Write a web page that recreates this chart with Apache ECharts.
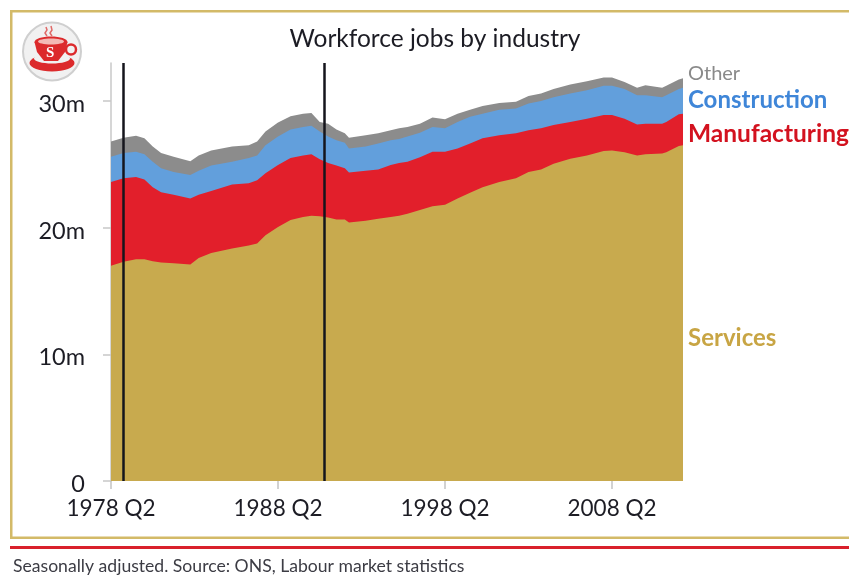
<!DOCTYPE html>
<html>
<head>
<meta charset="utf-8">
<title>Workforce jobs by industry</title>
<script src="https://cdn.jsdelivr.net/npm/echarts@6/dist/echarts.min.js"></script>
<style>
  html, body { margin: 0; padding: 0; background: #fff; }
  #chart { width: 849px; height: 583px; }
</style>
</head>
<body>
<div id="chart"></div>
<script>
// quarters counted from 1978 Q2, readings
const quarters = [0, 3, 6, 8, 10, 12, 15, 19, 21, 24, 29, 33, 35, 37, 40, 43, 46, 48, 50, 52, 54, 56, 57, 61, 64, 67, 69, 71, 74, 77, 80, 83, 86, 89, 93, 97, 100, 103, 106, 110, 114, 118, 120, 123, 126, 128, 132, 133, 136, 137];
const services = [17.0, 17.3, 17.5, 17.5, 17.35, 17.25, 17.2, 17.1, 17.6, 18.0, 18.35, 18.6, 18.75, 19.4, 20.05, 20.6, 20.85, 20.95, 20.9, 20.8, 20.65, 20.65, 20.4, 20.55, 20.7, 20.85, 20.95, 21.1, 21.4, 21.7, 21.8, 22.3, 22.75, 23.2, 23.6, 23.9, 24.4, 24.6, 25.05, 25.45, 25.7, 26.05, 26.1, 25.95, 25.7, 25.8, 25.85, 25.95, 26.45, 26.5];
const manufacturing = [6.6, 6.6, 6.5, 6.3, 5.85, 5.55, 5.4, 5.2, 5.0, 4.9, 5.05, 4.9, 5.0, 4.9, 4.9, 4.9, 4.85, 4.85, 4.5, 4.3, 4.25, 4.05, 3.95, 3.95, 3.9, 4.1, 4.15, 4.1, 4.15, 4.3, 4.2, 3.95, 3.9, 3.85, 3.7, 3.55, 3.3, 3.25, 3.05, 2.9, 2.9, 2.85, 2.8, 2.65, 2.45, 2.4, 2.35, 2.4, 2.5, 2.5];
const construction = [2.0, 2.0, 2.0, 2.0, 2.0, 1.9, 1.8, 1.85, 1.9, 2.0, 1.8, 2.0, 1.95, 2.2, 2.25, 2.25, 2.25, 2.25, 2.2, 2.1, 2.0, 2.0, 1.9, 1.9, 2.05, 1.95, 1.9, 2.0, 1.95, 1.95, 1.85, 2.1, 2.1, 1.95, 2.0, 1.95, 2.1, 2.15, 2.2, 2.25, 2.25, 2.3, 2.3, 2.35, 2.3, 2.25, 2.1, 2.1, 2.0, 2.05];
const other = [1.2, 1.2, 1.25, 1.25, 1.2, 1.2, 1.2, 1.1, 1.2, 1.2, 1.2, 1.0, 1.1, 1.1, 1.1, 1.05, 1.05, 1.0, 0.75, 1.0, 0.85, 0.75, 0.85, 0.9, 0.8, 0.8, 0.85, 0.75, 0.7, 0.75, 0.7, 0.65, 0.55, 0.6, 0.55, 0.55, 0.6, 0.6, 0.65, 0.7, 0.7, 0.65, 0.65, 0.55, 0.6, 0.8, 0.75, 0.75, 0.75, 0.75];
const xTicks = [0, 40, 80, 120];
const xTickLabels = ['1978 Q2', '1988 Q2', '1998 Q2', '2008 Q2'];
const yTicks = [0, 10, 20, 30];
const yTickLabels = ['0', '10m', '20m', '30m'];
const verticalLines = [3, 51];

const font = 'Lato';
const gold = '#d3ba68';

// stack option stacks along x when both axes are value axes, so add the layers up here
function runningTotal(layers) {
  return quarters.map((q, i) => [q, layers.reduce((sum, layer) => sum + layer[i], 0)]);
}

function areaSeries(name, layers, color, extra) {
  return Object.assign({
    name: name,
    type: 'line',
    showSymbol: false,
    lineStyle: { width: 0 },
    areaStyle: { color: color, opacity: 1 },
    data: runningTotal(layers)
  }, extra);
}

function sideLabel(text, y, color, size, weight) {
  return {
    type: 'text', x: 688, y: y, z: 10,
    style: { text: text, fill: color, font: (weight || 'normal') + ' ' + size + 'px ' + font }
  };
}

const chart = echarts.init(document.getElementById('chart'), null, { renderer: 'canvas' });

chart.setOption({
  animation: false,
  backgroundColor: '#fff',
  title: {
    text: 'Workforce jobs by industry',
    left: 430,
    top: 22,
    textAlign: 'center',
    textStyle: { fontFamily: font, fontSize: 24.5, fontWeight: 'normal', color: '#1c1c24' }
  },
  grid: { left: 111, right: 166, top: 63, bottom: 102 },
  xAxis: {
    type: 'value',
    min: 0,
    max: 137,
    interval: 40,
    splitLine: { show: false },
    axisLine: { show: false },
    axisTick: { show: true, length: 8, customValues: xTicks, lineStyle: { color: '#c4c4c4', width: 1.5 } },
    axisLabel: {
      customValues: xTicks,
      margin: 16,
      fontFamily: font,
      fontSize: 22.5,
      color: '#1c1c24',
      formatter: v => xTickLabels[xTicks.indexOf(v)]
    }
  },
  yAxis: {
    type: 'value',
    min: 0,
    max: 33,
    interval: 10,
    axisLine: { show: true, lineStyle: { color: '#c8c8c8', width: 1.5 } },
    axisTick: { show: true, length: 8, customValues: yTicks, lineStyle: { color: '#c8c8c8', width: 1.5 } },
    splitLine: { show: true, showMinLine: false, showMaxLine: false, lineStyle: { color: '#dcdcdc', width: 1.5 } },
    axisLabel: {
      customValues: yTicks,
      margin: 26,
      fontFamily: font,
      fontSize: 23.5,
      color: '#1c1c24',
      // labels sit a few pixels below their ticks in the original
      verticalAlign: 'top',
      lineHeight: 7,
      formatter: v => yTickLabels[yTicks.indexOf(v)]
    }
  },
  series: [
    areaSeries('Other', [services, manufacturing, construction, other], '#8c8c8c'),
    areaSeries('Construction', [services, manufacturing, construction], '#629fdc'),
    areaSeries('Manufacturing', [services, manufacturing], '#e21f2b'),
    areaSeries('Services', [services], '#c8aa4e', {
      markLine: {
        silent: true,
        symbol: 'none',
        label: { show: false },
        lineStyle: { color: '#15151c', width: 2.5, type: 'solid' },
        data: verticalLines.map(q => ({ xAxis: q }))
      }
    })
  ],
  graphic: [
    // frame and footer
    { type: 'rect', shape: { x: 10, y: 10, width: 839, height: 2.5 }, style: { fill: gold } },
    { type: 'rect', shape: { x: 10, y: 10, width: 2.5, height: 529 }, style: { fill: gold } },
    { type: 'rect', shape: { x: 10, y: 536.5, width: 839, height: 2.5 }, style: { fill: gold } },
    { type: 'rect', shape: { x: 10, y: 546, width: 839, height: 3 }, style: { fill: '#d9202c' } },
    {
      type: 'text', x: 13, y: 557,
      style: { text: 'Seasonally adjusted. Source: ONS, Labour market statistics', fill: '#3c3c44', font: '17.6px ' + font }
    },
    // side labels
    sideLabel('Other', 64, '#8a8a8a', 20),
    sideLabel('Construction', 88, '#3f86d8', 24, 'bold'),
    sideLabel('Manufacturing', 122, '#d3121f', 24.5, 'bold'),
    sideLabel('Services', 326, '#c8a544', 24, 'bold'),
    // logo
    {
      type: 'circle', shape: { cx: 52, cy: 51.5, r: 29 },
      style: { fill: '#f1f1f1', stroke: '#cfcfcf', lineWidth: 2 }
    },
    { type: 'ellipse', shape: { cx: 52, cy: 63, rx: 22.5, ry: 8.5 }, style: { fill: '#dc2a2c' } },
    { type: 'ellipse', shape: { cx: 52, cy: 58.5, rx: 18, ry: 5 }, style: { fill: '#f1f1f1' } },
    { type: 'circle', shape: { cx: 71, cy: 49.5, r: 5 }, style: { fill: 'none', stroke: '#dc2a2c', lineWidth: 2.5 } },
    { type: 'ellipse', shape: { cx: 51, cy: 42, rx: 16.5, ry: 5.5 }, style: { fill: '#dc2a2c' } },
    { type: 'polygon', shape: { points: [[34.5, 42], [67.5, 42], [65, 52], [58, 61], [44, 61], [37, 52]] }, style: { fill: '#dc2a2c' } },
    { type: 'ellipse', shape: { cx: 51, cy: 41.5, rx: 13, ry: 3 }, style: { fill: '#f3b9b5' } },
    { type: 'text', x: 46, y: 46, style: { text: 'S', fill: '#fff', font: 'bold 15px "Liberation Serif"' } },
    { type: 'polyline', shape: { points: [[47, 36], [45, 33], [47, 30], [46, 27]] }, style: { fill: 'none', stroke: '#e06a68', lineWidth: 1.5 } },
    { type: 'polyline', shape: { points: [[52, 36], [50, 33], [52, 30], [51, 26]] }, style: { fill: 'none', stroke: '#e06a68', lineWidth: 1.5 } }
  ]
});
</script>
</body>
</html>
